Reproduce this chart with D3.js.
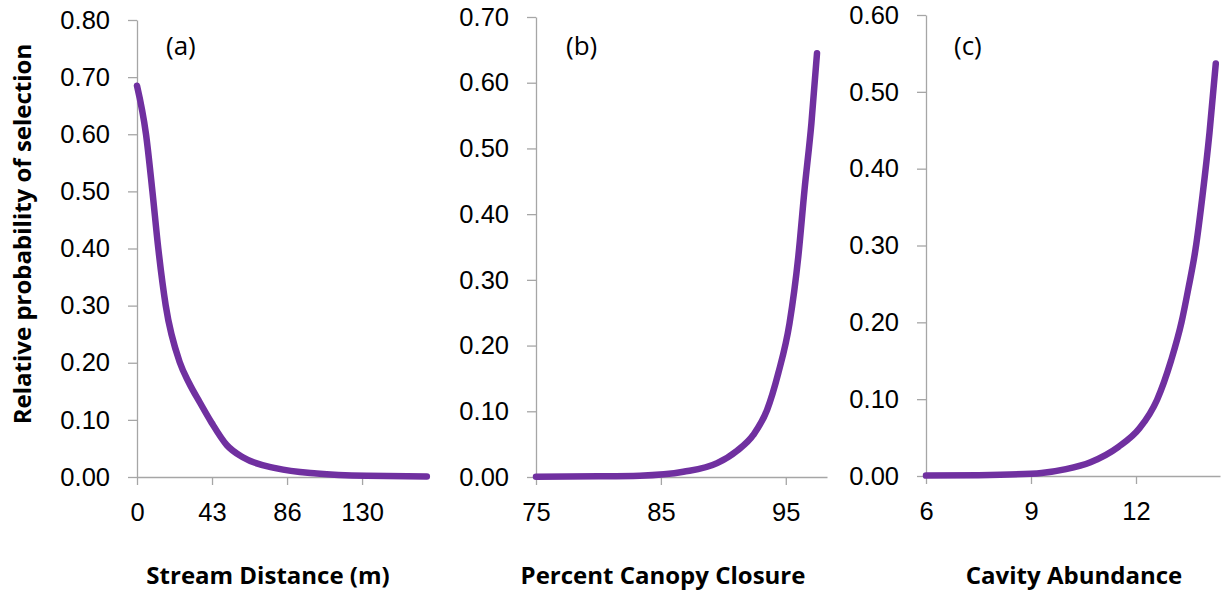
<!doctype html>
<html lang="en">

<head>
    <meta charset="utf-8">
    <script src="https://d3js.org/d3.v7.min.js"></script>
    <style>
        body { margin: 0; background: #fff; }
        svg { display: block; font-family: "Open Sans", sans-serif; }
        .axis path, .axis line { stroke: #a6a6a6; stroke-width: 1.3; }
        .axis text { fill: #000; font-size: 25.5px; }
        .title { font-weight: bold; font-size: 24px; fill: #000; }
        .panel-label { font-size: 26px; fill: #000; }
    </style>
</head>

<body>
    <svg id="chart" width="1221" height="592"></svg>

    <script>
        // panel (a) stream distance
        var streamX = [0, 5.2, 8.9, 12.3, 16.6, 24.8, 30, 36.4, 43.1, 51.8, 61.4, 80.7, 103.8, 132.7, 167.4];
        var streamY = [0.685, 0.60, 0.50, 0.40, 0.30, 0.20, 0.165, 0.13, 0.095, 0.056, 0.034, 0.015, 0.006, 0.002, 0.001];
        var streamTicks = [0, 43.33, 86.67, 130];
        var streamTickLabels = ["0", "43", "86", "130"];

        // panel (b) canopy closure
        var canopyX = [75, 80, 83.3, 86.8, 89.5, 91.1, 92.4, 93.5, 94.4, 95.3, 96.0, 96.5, 97.05, 97.5];
        var canopyY = [0.0005, 0.001, 0.002, 0.008, 0.021, 0.040, 0.064, 0.102, 0.158, 0.234, 0.335, 0.437, 0.538, 0.645];
        var canopyTicks = [75, 85, 95];

        // panel (c) cavity abundance
        var cavityX = [6, 7.5, 9, 9.3, 10, 10.7, 11.5, 12.1, 12.6, 13.0, 13.3, 13.5, 13.7, 13.9, 14.1, 14.28];
        var cavityY = [0.0005, 0.001, 0.003, 0.004, 0.009, 0.018, 0.038, 0.062, 0.099, 0.15, 0.20, 0.245, 0.295, 0.365, 0.447, 0.537];
        var cavityTicks = [6, 9, 12];

        var yTitle = "Relative probability of selection";

        var svg = d3.select("#chart");

        var panels = [
            { xs: streamX, ys: streamY, xDomain: [0, 167.5], xRange: [137, 427], yMax: 0.8, yRange: [477, 20],
              ticks: streamTicks, labels: streamTickLabels, title: "Stream Distance (m)", titleX: 268, tag: "(a)", tagX: 166 },
            { xs: canopyX, ys: canopyY, xDomain: [75, 98.3], xRange: [536, 827], yMax: 0.7, yRange: [477, 17],
              ticks: canopyTicks, labels: canopyTicks.map(String), title: "Percent Canopy Closure", titleX: 663, tag: "(b)", tagX: 566 },
            { xs: cavityX, ys: cavityY, xDomain: [6, 14.4], xRange: [926, 1220], yMax: 0.6, yRange: [476, 15],
              ticks: cavityTicks, labels: cavityTicks.map(String), title: "Cavity Abundance", titleX: 1074, tag: "(c)", tagX: 954 }
        ];

        panels.forEach(function (p) {
            var x = d3.scaleLinear().domain(p.xDomain).range(p.xRange);
            var y = d3.scaleLinear().domain([0, p.yMax]).range(p.yRange);
            var yTicks = d3.range(0, p.yMax + 0.001, 0.1);

            svg.append("g")
                .attr("class", "axis")
                .attr("transform", "translate(" + p.xRange[0] + ",0)")
                .call(d3.axisLeft(y).tickValues(yTicks).tickFormat(d3.format(".2f"))
                    .tickSize(9).tickSizeOuter(0).tickPadding(18));

            svg.append("g")
                .attr("class", "axis")
                .attr("transform", "translate(0," + p.yRange[0] + ")")
                .call(d3.axisBottom(x).tickValues(p.ticks).tickFormat(function (d, i) { return p.labels[i]; })
                    .tickSize(8).tickSizeOuter(0).tickPadding(18));

            var line = d3.line()
                .x(function (d, i) { return x(p.xs[i]); })
                .y(function (d, i) { return y(p.ys[i]); })
                .curve(d3.curveMonotoneX);

            svg.append("path")
                .datum(p.ys)
                .attr("d", line)
                .attr("fill", "none")
                .attr("stroke", "#7030a0")
                .attr("stroke-width", 6.5)
                .attr("stroke-linecap", "round")
                .attr("stroke-linejoin", "round");

            svg.append("text")
                .attr("class", "title")
                .attr("x", p.titleX)
                .attr("y", 584)
                .attr("text-anchor", "middle")
                .text(p.title);

            svg.append("text")
                .attr("class", "panel-label")
                .attr("x", p.tagX)
                .attr("y", 55)
                .text(p.tag);
        });

        svg.append("text")
            .attr("class", "title")
            .attr("transform", "translate(31,234) rotate(-90)")
            .attr("text-anchor", "middle")
            .text(yTitle);
    </script>
</body>

</html>
